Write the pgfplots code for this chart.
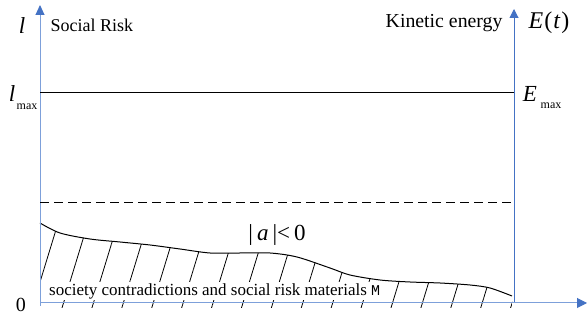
\documentclass[border=0pt]{standalone}
\usepackage{pgfplots}
\pgfplotsset{compat=1.18}
\usepgfplotslibrary{fillbetween}
\usetikzlibrary{arrows.meta,patterns.meta}
\usepackage{fontspec}
\setmainfont{Liberation Serif}
\newfontfamily\monofont{Liberation Mono}
\definecolor{ofblue}{RGB}{68,114,196}
\definecolor{lblue}{RGB}{125,160,218}
\begin{document}
\begin{tikzpicture}
\begin{axis}[width=588pt,height=314pt,scale only axis,
  xmin=0,xmax=588,ymin=0,ymax=314,axis lines=none,clip=false]
\addplot[draw=none] coordinates {(0,0) (588,314)};
% curve (boundary of social risk materials)
\addplot[name path=curve, black, line width=1pt, smooth, tension=0.5] coordinates {
 (40,91) (60,81) (90,75) (120,72) (150,69) (180,65) (210,61) (240,61)
 (270,61) (297,57) (330,46) (350,39) (380,34) (410,32) (440,31) (470,29)
 (490,26) (512,18)};
\addplot[name path=base, draw=none] coordinates {(40,6) (512,6)};
\addplot[pattern={Lines[angle=73,distance=28.6pt,line width=0.8pt]}, draw=none]
  fill between[of=curve and base];
% axes
\addplot[lblue, line width=1pt, -{Triangle[length=10pt,width=9pt,color=ofblue,fill=ofblue]}]
  coordinates {(40,8) (40,309)};
\addplot[ofblue, line width=1pt, -{Triangle[length=9pt,width=9pt]}]
  coordinates {(514,11) (514,305)};
\addplot[lblue, line width=1pt, -{Triangle[length=10pt,width=10pt,color=ofblue,fill=ofblue]}]
  coordinates {(40,11) (587,11)};
% levels
\addplot[black, line width=1pt] coordinates {(40,221) (514,221)};
\addplot[black, line width=1pt, dash pattern=on 9pt off 5pt] coordinates {(40,111) (514,111)};
% texts
\node[anchor=west, fill=white, inner sep=1pt, font=\fontsize{17}{18}\selectfont]
  at (axis cs:48,23) {society contradictions and social risk materials {\monofont\fontsize{15}{18}\selectfont M}};
\node[font=\fontsize{23}{26}\selectfont] at (axis cs:277,79)
  {|\hspace{4pt}\textit{a}\hspace{4pt}|<\hspace{4pt}0};
\node[anchor=west, font=\fontsize{18}{20}\selectfont] at (axis cs:47,289) {Social Risk};
\node[anchor=east, font=\fontsize{19.8}{22}\selectfont] at (axis cs:506,291) {Kinetic energy};
\node[font=\fontsize{24}{26}\selectfont] at (axis cs:549,291) {\textit{E}\hspace{1pt}(\hspace{1pt}\textit{t}\hspace{1pt})};
\node[font=\fontsize{23}{24}\selectfont] at (axis cs:22,288) {\textit{l}};
\node[font=\fontsize{23}{24}\selectfont] at (axis cs:12,220) {\textit{l}};
\node[font=\fontsize{12}{14}\selectfont] at (axis cs:27,207) {max};
\node[font=\fontsize{23}{24}\selectfont] at (axis cs:530,220) {\textit{E}};
\node[font=\fontsize{12}{14}\selectfont] at (axis cs:551,208) {max};
\node[font=\fontsize{20}{22}\selectfont] at (axis cs:21,9) {0};
\end{axis}
\end{tikzpicture}
\end{document}
